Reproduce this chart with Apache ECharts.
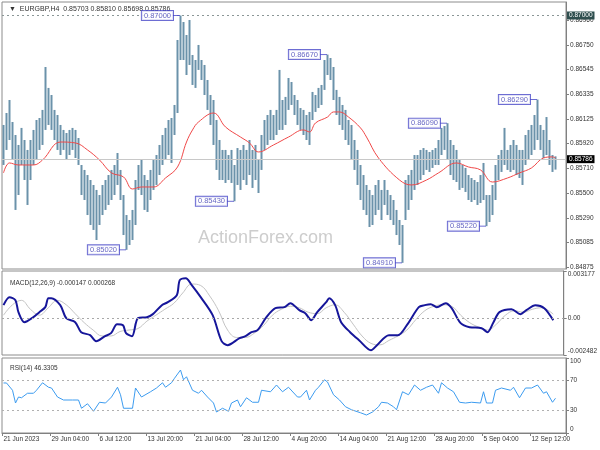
<!DOCTYPE html>
<html><head><meta charset="utf-8">
<script src="https://cdn.jsdelivr.net/npm/echarts@6/dist/echarts.min.js"></script>
<style>html,body{margin:0;padding:0;background:#fff}#c{width:600px;height:450px}</style>
</head><body><div id="c"></div>
<script>
// ---- price bars (high / low per bar) ----
const priceHigh = [
0.86075,0.86176,0.86286,0.86100,0.85990,0.85906,0.86050,0.85948,0.85864,0.85948,
0.86033,0.86117,0.86134,0.86202,0.86565,0.86388,0.86328,0.86202,0.86159,0.86075,
0.86033,0.86007,0.86033,0.86050,0.86033,0.85965,0.85737,0.85695,0.85652,0.85610,
0.85568,0.85526,0.85483,0.85568,0.85610,0.85652,0.85695,0.85737,0.85838,0.85695,
0.85483,0.85314,0.85272,0.85357,0.85610,0.85737,0.85779,0.85652,0.85610,0.85695,
0.85779,0.85821,0.85906,0.85990,0.86050,0.86117,0.86134,0.86244,0.86793,0.87000,
0.86945,0.86835,0.86962,0.86666,0.86624,0.86751,0.86624,0.86582,0.86455,0.86328,
0.86286,0.86117,0.85948,0.85864,0.85864,0.85821,0.85864,0.85737,0.85880,0.85864,
0.85906,0.85864,0.85948,0.85864,0.85906,0.85779,0.85990,0.86117,0.86159,0.86202,
0.86159,0.86202,0.86540,0.86286,0.86312,0.86472,0.86438,0.86328,0.86286,0.86218,
0.86202,0.86159,0.86185,0.86354,0.86328,0.86388,0.86413,0.86624,0.86670,0.86641,
0.86565,0.86371,0.86312,0.86244,0.86202,0.86117,0.86075,0.85948,0.85864,0.85737,
0.85652,0.85568,0.85526,0.85483,0.85568,0.85610,0.85526,0.85610,0.85526,0.85483,
0.85441,0.85357,0.85272,0.85230,0.85610,0.85652,0.85695,0.85821,0.85821,0.85864,
0.85880,0.85864,0.85847,0.85864,0.85880,0.85948,0.86050,0.86066,0.86090,0.85948,
0.85906,0.85864,0.85779,0.85737,0.85712,0.85652,0.85627,0.85610,0.85593,0.85652,
0.85754,0.85483,0.85483,0.85568,0.85737,0.85821,0.85864,0.86050,0.85864,0.85906,
0.85948,0.85906,0.85864,0.85864,0.85990,0.86033,0.86075,0.86159,0.86290,0.86075,
0.86033,0.86142,0.85948,0.85821,0.85810];
const priceLow = [
0.85737,0.85864,0.85948,0.85779,0.85357,0.85483,0.85737,0.85610,0.85399,0.85610,
0.85737,0.85779,0.85864,0.85906,0.86033,0.86075,0.86033,0.85948,0.85864,0.85821,
0.85864,0.85779,0.85821,0.85864,0.85796,0.85737,0.85483,0.85441,0.85314,0.85230,
0.85188,0.85103,0.85230,0.85314,0.85357,0.85399,0.85441,0.85483,0.85568,0.85441,
0.85145,0.85020,0.85061,0.85103,0.85230,0.85526,0.85483,0.85357,0.85340,0.85441,
0.85526,0.85568,0.85652,0.85737,0.85779,0.85821,0.85754,0.85990,0.86176,0.86624,
0.86624,0.86497,0.86582,0.86413,0.86388,0.86540,0.86455,0.86328,0.86202,0.86075,
0.85906,0.85695,0.85610,0.85610,0.85585,0.85610,0.85585,0.85430,0.85568,0.85526,
0.85610,0.85568,0.85652,0.85543,0.85610,0.85500,0.85695,0.85864,0.85906,0.85948,
0.85948,0.85990,0.86033,0.86033,0.86075,0.86202,0.86244,0.86159,0.86075,0.86033,
0.85990,0.85948,0.85906,0.86117,0.86185,0.86218,0.86244,0.86371,0.86497,0.86455,
0.86286,0.86159,0.86075,0.86033,0.85948,0.85906,0.85779,0.85695,0.85568,0.85441,
0.85357,0.85314,0.85213,0.85230,0.85314,0.85357,0.85272,0.85399,0.85314,0.85272,
0.85230,0.85145,0.85061,0.84910,0.85272,0.85357,0.85441,0.85526,0.85568,0.85610,
0.85652,0.85695,0.85678,0.85712,0.85737,0.85737,0.85821,0.85864,0.85779,0.85652,
0.85610,0.85593,0.85526,0.85543,0.85509,0.85441,0.85424,0.85441,0.85399,0.85416,
0.85441,0.85220,0.85255,0.85314,0.85441,0.85610,0.85678,0.85737,0.85695,0.85678,
0.85695,0.85652,0.85627,0.85568,0.85737,0.85779,0.85821,0.85864,0.85948,0.85864,
0.85796,0.85821,0.85737,0.85678,0.85698];

// ---- moving average (red) ----
const maIdx = [0,2,5,10,13,19,24,28,32,36,40,43,46,50,54,58,61,63,65,70,74,79,82,85,90,95,100,102,104,108,110,112,115,119,121,125,132,136,141,145,151,155,159,163,168,172,176,180,183,184];
const maVal = [0.85670,0.85754,0.85737,0.85737,0.85779,0.85931,0.85923,0.85864,0.85779,0.85670,0.85636,0.85534,0.85551,0.85551,0.85627,0.85720,0.85931,0.86033,0.86100,0.86176,0.86058,0.85973,0.85923,0.85847,0.85906,0.85973,0.86033,0.86016,0.86092,0.86142,0.86185,0.86185,0.86142,0.86050,0.85973,0.85796,0.85610,0.85568,0.85610,0.85670,0.85754,0.85720,0.85695,0.85593,0.85627,0.85670,0.85712,0.85796,0.85805,0.85796];

// ---- MACD(12,26,9) ----
const macdIdx = [0,2,4,5,7,10,12,14,15,16,19,21,24,26,29,31,34,36,38,40,41,43,45,48,50,53,55,58,59,61,63,66,70,73,75,79,81,83,85,88,91,94,96,99,101,103,105,108,109,111,113,116,119,123,125,129,132,135,139,141,143,145,148,150,153,156,160,162,164,166,170,173,175,178,181,184];
const macdVal = [0.000876,0.001415,0.001213,0.000404,-0.00027,0.000067,0.000404,0.000741,0.001348,0.001348,0.000876,0,-0.00027,-0.000944,-0.001146,-0.00155,-0.001213,-0.001011,-0.000404,-0.000472,-0.001011,-0.001213,0,0.000067,0.00027,0.000876,0.001078,0.00155,0.002561,0.002696,0.002224,0.001415,0.000202,-0.00155,-0.00182,-0.001348,-0.001213,-0.000944,-0.000809,0.000067,0.000674,0.000741,0.001011,0.000539,0.000337,-0.000135,0.000404,0.001078,0.001348,0.000876,-0.00027,-0.000944,-0.001483,-0.002157,-0.00182,-0.001146,-0.001146,-0.000472,0.000741,0.000876,0.000944,0.000741,0.001011,0.000674,-0.000337,-0.000607,-0.000674,-0.000944,-0.00027,0.000404,0.000607,0.00027,0.000539,0.000876,0.000674,-0.000147];
const sigIdx = [0,3,6,9,12,15,18,21,24,27,30,33,36,39,42,45,48,51,54,57,60,63,66,69,72,75,78,81,84,87,90,93,96,99,102,105,108,111,114,117,120,123,126,129,132,135,138,141,144,147,150,153,156,159,162,165,168,171,174,177,180,184];
const sigVal = [0.0002,0.0009,0.0012,0.0006,0.0002,0.0007,0.0012,0.0009,0.0003,-0.0003,-0.0008,-0.0012,-0.0012,-0.0009,-0.0008,-0.0007,-0.0002,0.0002,0.0006,0.0010,0.0017,0.0023,0.0022,0.0015,0.0005,-0.0008,-0.0013,-0.0013,-0.0010,-0.0005,0.0002,0.0006,0.0008,0.0007,0.0004,0.0003,0.0007,0.0009,0.0004,-0.0004,-0.0012,-0.0017,-0.0018,-0.0015,-0.0012,-0.0008,-0.0001,0.0005,0.0008,0.0009,0.0008,0.0002,-0.0003,-0.0006,-0.0008,-0.0004,0.0002,0.0005,0.0004,0.0006,0.0007,0.000268];

// ---- RSI(14) ----
const rsiIdx = [0,1,3,4,5,6,8,10,11,13,15,16,18,20,23,25,26,28,30,32,34,36,38,39,40,43,44,46,49,51,53,54,56,57,59,60,61,63,65,66,68,70,71,73,75,76,78,79,81,83,85,86,89,91,93,95,98,99,101,102,104,105,107,108,110,112,114,116,119,121,123,125,126,128,130,131,133,135,137,139,141,143,145,146,148,150,152,154,156,159,160,161,163,164,166,169,170,172,174,176,178,180,181,183,184];
const rsiVal = [66.7,66.7,57,40,48,47,53,53,57,67,61,60,48,44,44,44,33,39,29,41,40,48,61,51,33,33,60,48,55,60,67,61,67,73,84,71,75,57,53,57,48,40,28,33,29,40,44,35,47,41,41,57,55,64,55,61,48,48,57,44,57,61,71,68,51,44,35,31,27,24,28,35,41,40,35,31,55,51,64,57,61,64,53,67,60,55,41,40,41,40,55,40,40,57,60,57,61,47,60,60,64,53,55,41,46.33];

// ---- annotations (swing highs / lows) ----
const annIdx = [59,41,77,108,133,148,161,178];
const annVal = [0.87000,0.85020,0.85430,0.86670,0.84910,0.86090,0.85220,0.86290];

// ---- axes ----
const priceTicks = [0.84875,0.85085,0.85290,0.85500,0.85710,0.85920,0.86125,0.86335,0.86545,0.86750,0.86960];
const macdTicks = [-0.002482,0,0.003177];
const rsiTicks = [0,30,70,100];
const timeIdx = [0,16,32,48,64,80,96,112,128,144,160,176];
const timeLabels = ['21 Jun 2023','29 Jun 04:00','6 Jul 12:00','13 Jul 20:00','21 Jul 04:00','28 Jul 12:00','4 Aug 20:00','14 Aug 04:00','21 Aug 12:00','28 Aug 20:00','5 Sep 04:00','12 Sep 12:00'];
const lastClose = 0.85786;
const highLine = 0.87000;
const nCats = 188;

const FF = 'Liberation Sans';
const cats = Array.from({length: nCats}, (_, i) => String(i));
const labelMap = {};
timeIdx.forEach((k, j) => labelMap[k] = timeLabels[j]);
const candle = priceHigh.map((h, i) => [priceLow[i], h, priceLow[i], h]);
const pair = (idx, val) => idx.map((x, k) => [x, val[k]]);

const chart = echarts.init(document.getElementById('c'), null, {renderer: 'canvas'});
const axisGrey = '#808080';
const gridBase = {left: 2, right: 34, show: true, borderColor: '#8c8c8c', borderWidth: 1, backgroundColor: '#fff'};
const hiddenX = (g) => ({type: 'category', gridIndex: g, data: cats, boundaryGap: true,
  axisLine: {show: false}, axisTick: {show: false}, axisLabel: {show: false}, splitLine: {show: false}});

chart.setOption({
  animation: false,
  backgroundColor: '#fff',
  title: [
    {text: '\u25BC  EURGBP,H4  0.85703 0.85810 0.85698 0.85786', left: 4, top: 1,
     textStyle: {fontSize: 7, fontWeight: 'normal', color: '#333', fontFamily: FF}},
    {text: 'MACD(12,26,9) -0.000147 0.000268', left: 5, top: 275,
     textStyle: {fontSize: 6.5, fontWeight: 'normal', color: '#333', fontFamily: FF}},
    {text: 'RSI(14) 46.3305', left: 5, top: 360,
     textStyle: {fontSize: 6.5, fontWeight: 'normal', color: '#333', fontFamily: FF}}
  ],
  graphic: [{type: 'text', left: 198, top: 229, z: 0, silent: true,
    style: {text: 'ActionForex.com', fontSize: 18, fontFamily: FF, fill: '#cdcdcd'}}],
  grid: [
    Object.assign({top: 2, height: 267}, gridBase),
    Object.assign({top: 271, height: 84}, gridBase),
    Object.assign({top: 358, height: 75}, gridBase)
  ],
  xAxis: [hiddenX(0), hiddenX(1), {
    type: 'category', gridIndex: 2, data: cats, boundaryGap: true,
    axisLine: {show: true, lineStyle: {color: axisGrey}},
    axisTick: {show: true, interval: 15, length: 3, lineStyle: {color: axisGrey}},
    axisLabel: {interval: 15, align: 'left', fontSize: 6.5, color: '#333', margin: 3, fontFamily: FF,
      formatter: (v) => labelMap[+v] || ''},
    splitLine: {show: false}
  }],
  yAxis: [
    {type: 'value', gridIndex: 0, position: 'right', min: 0.84858, max: 0.87114,
     axisLine: {show: true, lineStyle: {color: axisGrey}},
     axisTick: {show: true, length: 3, customValues: priceTicks, lineStyle: {color: axisGrey}},
     axisLabel: {customValues: priceTicks, formatter: (v) => v.toFixed(5), fontSize: 6.5, color: '#333', margin: 4, fontFamily: FF},
     splitLine: {show: false}},
    {type: 'value', gridIndex: 1, position: 'right', min: -0.002482, max: 0.003177,
     axisLine: {show: true, lineStyle: {color: axisGrey}},
     axisTick: {show: true, length: 3, customValues: macdTicks, lineStyle: {color: axisGrey}},
     axisLabel: {customValues: macdTicks, formatter: (v) => v === 0 ? '0.00' : v.toFixed(6), fontSize: 6.5, color: '#333', margin: 4, fontFamily: FF,
       verticalAlignMaxLabel: 'top', verticalAlignMinLabel: 'bottom'},
     splitLine: {show: false}},
    {type: 'value', gridIndex: 2, position: 'right', min: 0, max: 100,
     axisLine: {show: true, lineStyle: {color: axisGrey}},
     axisTick: {show: true, length: 3, customValues: rsiTicks, lineStyle: {color: axisGrey}},
     axisLabel: {customValues: rsiTicks, formatter: (v) => String(v), fontSize: 6.5, color: '#333', margin: 4, fontFamily: FF,
       verticalAlignMaxLabel: 'top', verticalAlignMinLabel: 'bottom'},
     splitLine: {show: false}}
  ],
  series: [
    {type: 'candlestick', xAxisIndex: 0, yAxisIndex: 0, data: candle, barWidth: 2, z: 3,
     itemStyle: {color: '#6b92aa', color0: '#6b92aa', borderColor: '#6b92aa', borderColor0: '#6b92aa', borderWidth: 0}},
    {type: 'line', xAxisIndex: 0, yAxisIndex: 0, data: pair(maIdx, maVal), smooth: 0.4, showSymbol: false, z: 4,
     lineStyle: {color: '#f04848', width: 1},
     markLine: {silent: true, symbol: ['none', 'none'], animation: false, precision: 5,
       data: [
         {yAxis: highLine, lineStyle: {type: [2, 3], color: '#8a9696', width: 1},
          label: {show: true, position: 'end', distance: 1, formatter: highLine.toFixed(5), color: '#fff', backgroundColor: '#2f4f4f', padding: [1, 2, 0, 2], fontSize: 6.5, fontFamily: FF}},
         {yAxis: lastClose, lineStyle: {type: 'solid', color: '#c8c8c8', width: 1},
          label: {show: true, position: 'end', distance: 1, formatter: lastClose.toFixed(5), color: '#fff', backgroundColor: '#000', padding: [1, 2, 0, 2], fontSize: 6.5, fontFamily: FF}}
       ]}},
    {type: 'scatter', xAxisIndex: 0, yAxisIndex: 0, data: pair(annIdx, annVal), z: 6,
     symbol: 'rect', symbolSize: [7, 1], symbolOffset: [-4, 0], itemStyle: {color: '#4848c8'},
     label: {show: true, position: 'left', distance: 0, formatter: (p) => p.value[1].toFixed(5),
       color: '#3c3cb4', backgroundColor: '#fff', borderColor: '#4848c8', borderWidth: 1, padding: [1, 2, 0, 2], fontSize: 7.5, fontFamily: FF}},
    {type: 'line', xAxisIndex: 1, yAxisIndex: 1, data: pair(sigIdx, sigVal), smooth: 0.4, showSymbol: false,
     lineStyle: {color: '#c4c4c4', width: 1},
     markLine: {silent: true, symbol: ['none', 'none'], label: {show: false}, precision: 6,
       data: [{yAxis: 0}], lineStyle: {type: [2, 3], color: '#a8a8a8', width: 1}}},
    {type: 'line', xAxisIndex: 1, yAxisIndex: 1, data: pair(macdIdx, macdVal), smooth: 0.3, showSymbol: false, z: 4,
     lineStyle: {color: '#16169a', width: 2}},
    {type: 'line', xAxisIndex: 2, yAxisIndex: 2, data: pair(rsiIdx, rsiVal), showSymbol: false,
     lineStyle: {color: '#3d9cf0', width: 1},
     markLine: {silent: true, symbol: ['none', 'none'], label: {show: false},
       data: [{yAxis: 70}, {yAxis: 30}], lineStyle: {type: [2, 3], color: '#b0b0b0', width: 1}}}
  ]
});
</script>
</body></html>
